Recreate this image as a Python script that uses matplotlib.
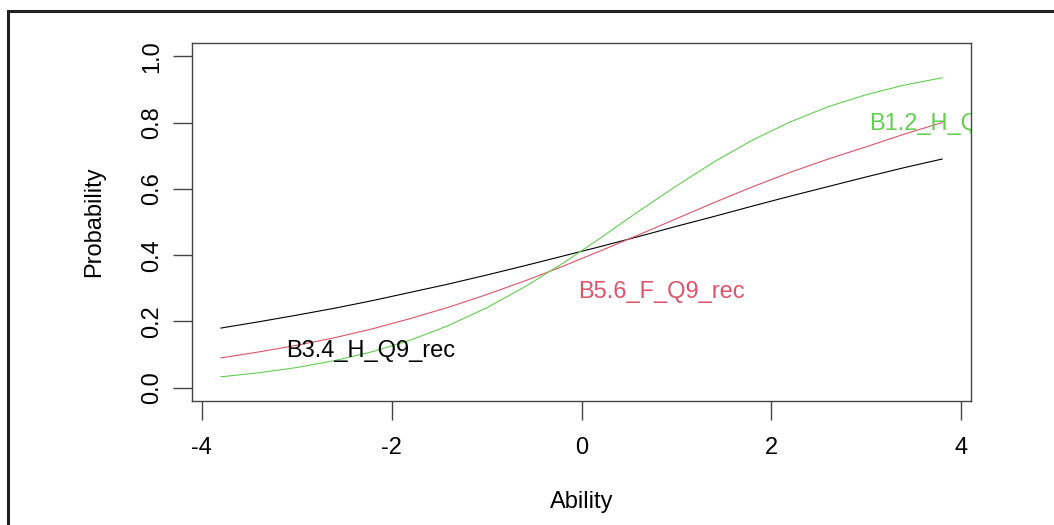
import numpy as np
import matplotlib
matplotlib.use("Agg")
import matplotlib.pyplot as plt
from matplotlib.patches import Rectangle

plt.rcParams['font.family'] = ['Liberation Sans', 'DejaVu Sans']
plt.rcParams['axes.unicode_minus'] = False

# ability grid and item characteristic curves
ability = [-3.8, -3.4, -3.0, -2.6, -2.2, -1.8, -1.4, -1.0, -0.6, -0.2,
           0.2, 0.6, 1.0, 1.4, 1.8, 2.2, 2.6, 3.0, 3.4, 3.8]
p_b34 = [0.180, 0.199, 0.219, 0.240, 0.263, 0.288, 0.313, 0.340, 0.368, 0.397,
         0.426, 0.456, 0.487, 0.517, 0.548, 0.578, 0.607, 0.636, 0.664, 0.690]
p_b56 = [0.090, 0.108, 0.128, 0.151, 0.178, 0.209, 0.243, 0.281, 0.322, 0.366,
         0.413, 0.461, 0.510, 0.559, 0.606, 0.650, 0.690, 0.727, 0.765, 0.800]
p_b12 = [0.033, 0.045, 0.061, 0.082, 0.109, 0.144, 0.188, 0.241, 0.304, 0.375,
         0.452, 0.532, 0.609, 0.682, 0.747, 0.802, 0.848, 0.884, 0.913, 0.935]

items = ["B3.4_H_Q9_rec", "B5.6_F_Q9_rec", "B1.2_H_Q9_rec"]
colors = ["#000000", "#DF536B", "#61D04F"]
label_pos = [(-2.22, 0.111), (0.84, 0.289), (3.92, 0.795)]

fig = plt.figure(figsize=(10.54, 5.25), dpi=100)
ax = fig.add_axes([0.1822, 0.2362, 0.9213 - 0.1822, 0.9181 - 0.2362])

for p, c in zip([p_b34, p_b56, p_b12], colors):
    ax.plot(ability, p, color=c, lw=0.8)

for name, c, (tx, ty) in zip(items, colors, label_pos):
    ax.text(tx, ty, name, color=c, fontsize=17, ha='center', va='center',
            clip_on=True)

ax.set_xlim(-4.104, 4.104)
ax.set_ylim(-0.04, 1.04)
ax.set_xticks([-4, -2, 0, 2, 4])
ax.set_yticks([0.0, 0.2, 0.4, 0.6, 0.8, 1.0])
ax.set_yticklabels(["0.0", "0.2", "0.4", "0.6", "0.8", "1.0"],
                   rotation=90, va='center')
ax.tick_params(length=14, width=1, color='#444444', labelsize=17, pad=12)
ax.tick_params(axis='y', pad=7)
for s in ax.spines.values():
    s.set_color('#444444')
    s.set_linewidth(1)

ax.set_xlabel("Ability", fontsize=17, labelpad=23)
ax.set_ylabel("Probability", fontsize=17, labelpad=26)

# outer frame (only top and left edges visible)
fig.add_artist(Rectangle((8 / 1054, -0.2), 1.5, 1.2 - 11 / 525,
                         transform=fig.transFigure, fill=False,
                         edgecolor='#222222', lw=2.2))

fig.savefig("out.png", dpi=100)
